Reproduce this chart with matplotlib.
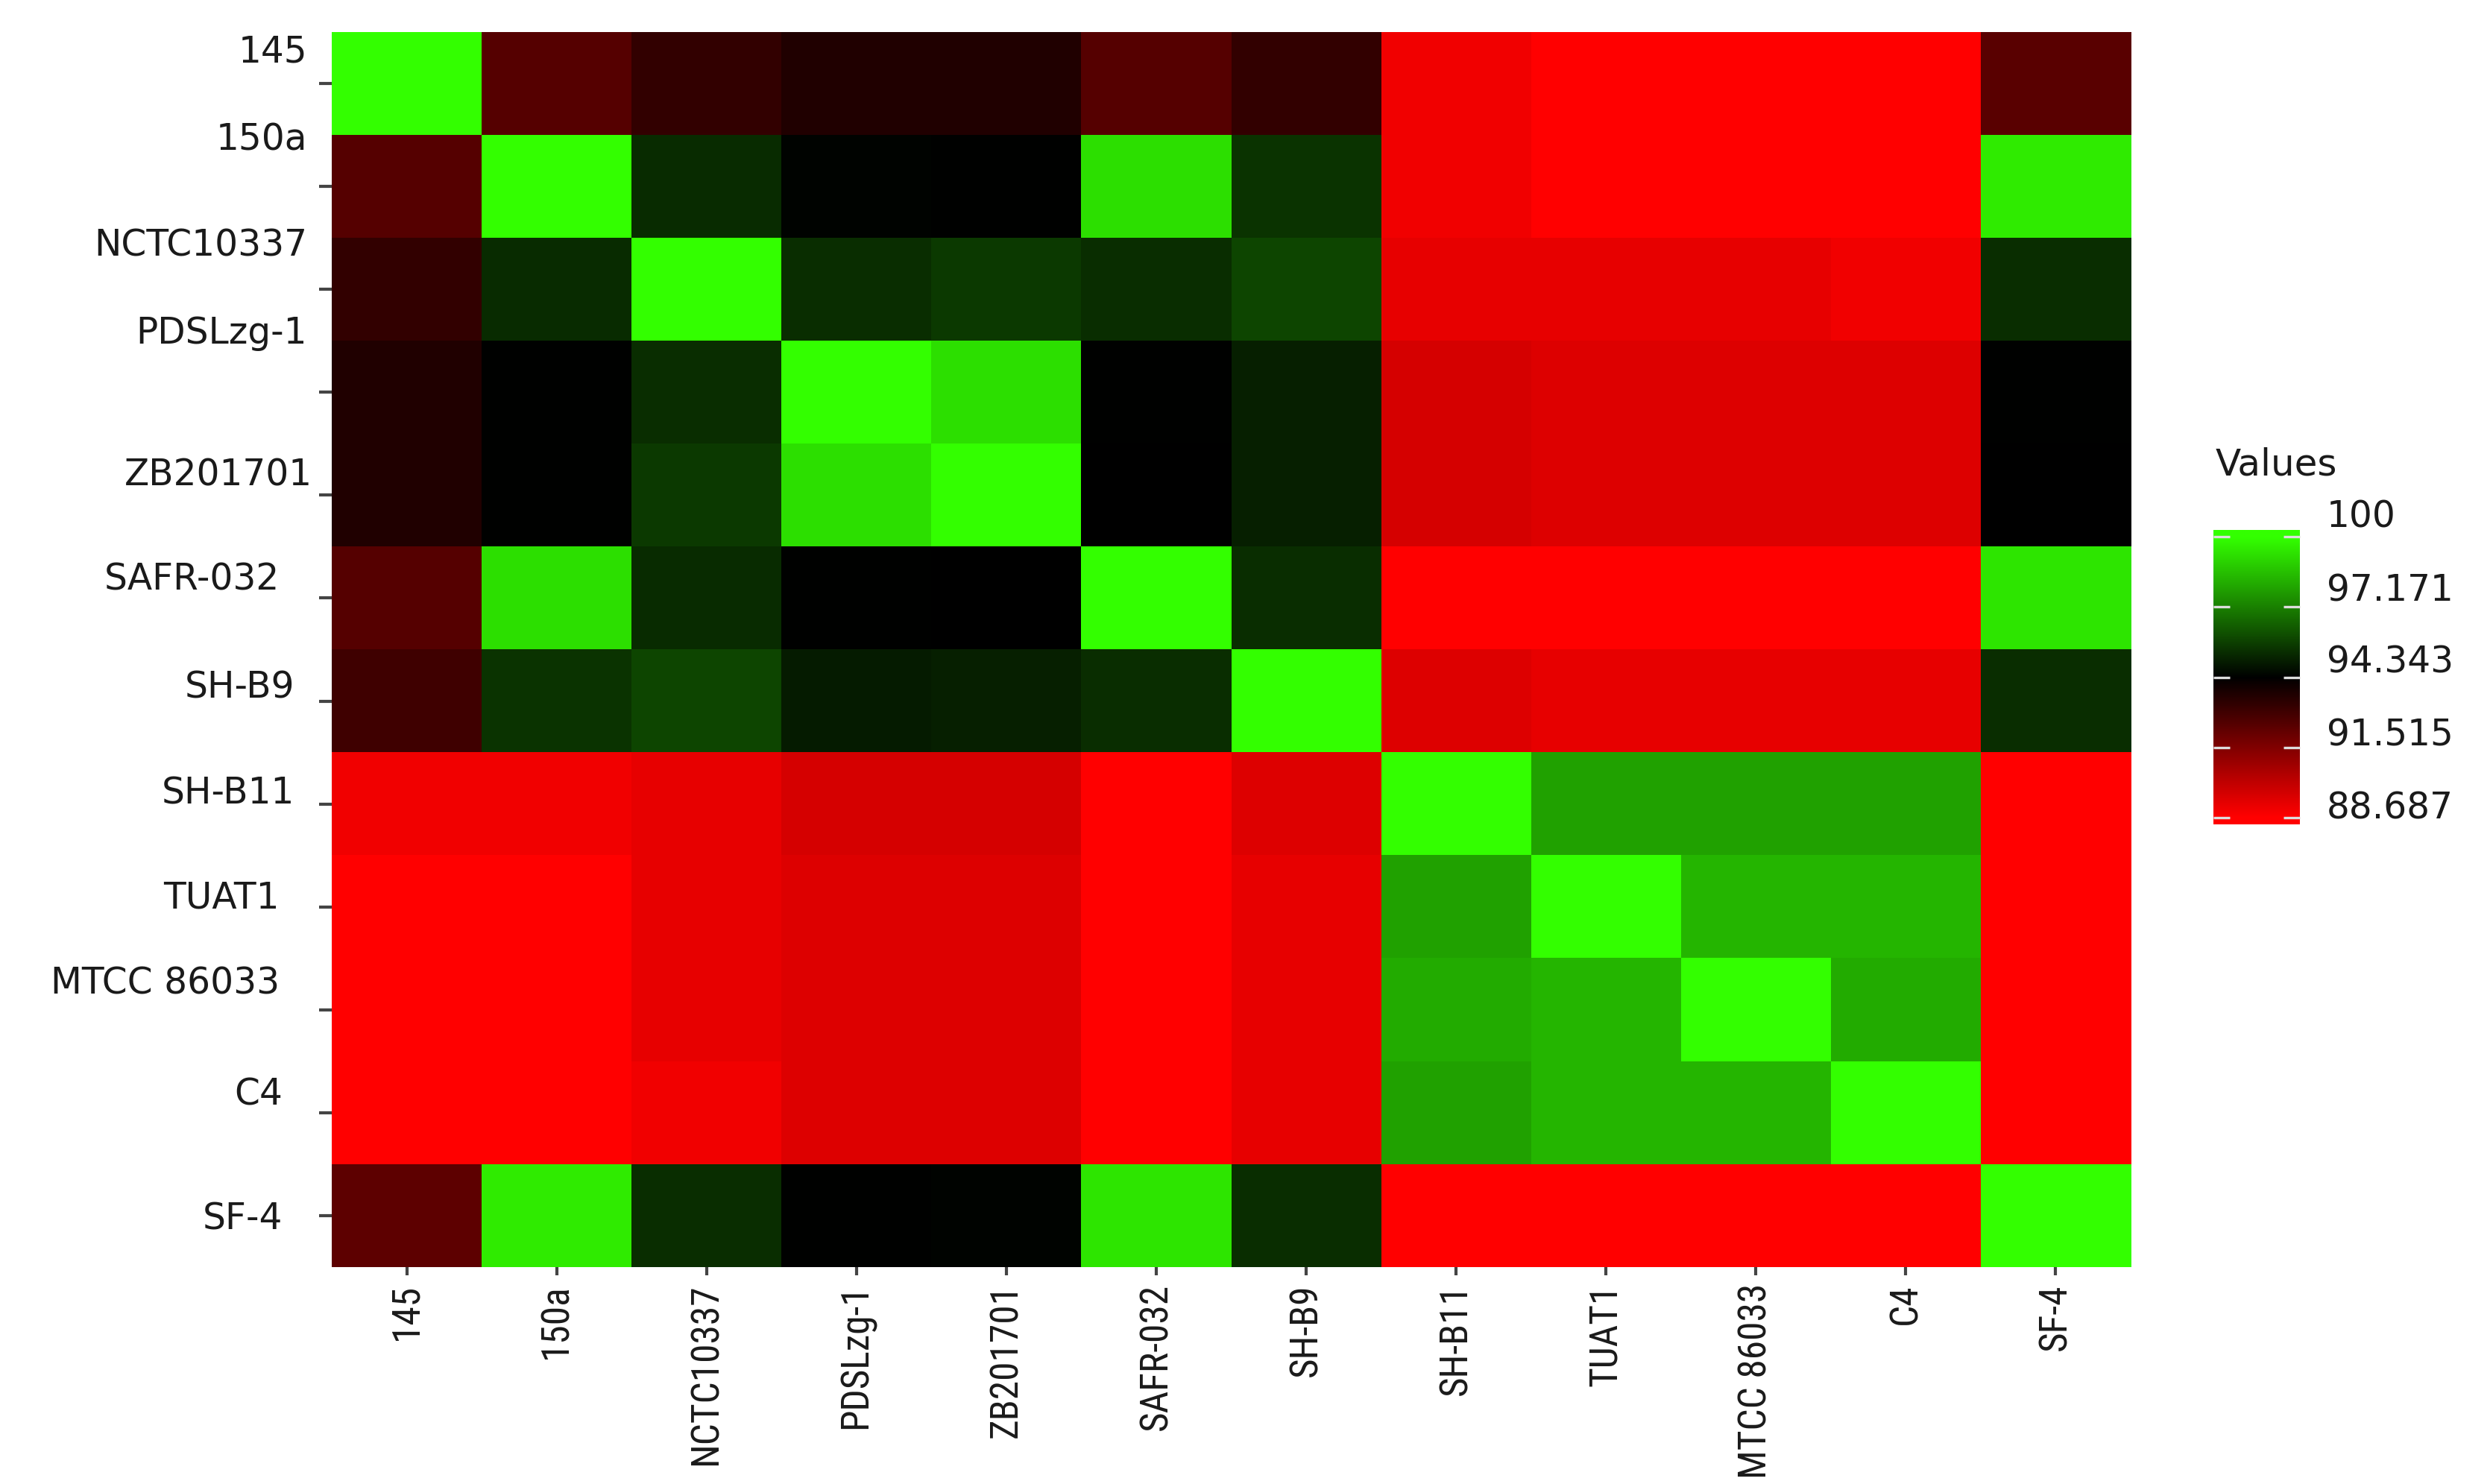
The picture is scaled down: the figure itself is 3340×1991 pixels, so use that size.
import numpy as np
import matplotlib
matplotlib.use('Agg')
import matplotlib.pyplot as plt
import matplotlib.transforms as mtransforms
from matplotlib import font_manager
from matplotlib.colors import LinearSegmentedColormap, Normalize

# strains (same order on both axes)
strains = ['145', '150a', 'NCTC10337', 'PDSLzg-1', 'ZB201701', 'SAFR-032', 'SH-B9',
           'SH-B11', 'TUAT1', 'MTCC 86033', 'C4', 'SF-4']

# similarity values, one list per row
row_145   = [100.00, 92.46, 93.21, 93.63, 93.63, 92.46, 93.21, 89.02, 88.69, 88.69, 88.69, 92.39]
row_150a  = [92.46, 100.00, 95.28, 94.40, 94.38, 99.25, 95.47, 89.02, 88.69, 88.69, 88.69, 99.55]
row_nctc  = [93.21, 95.28, 100.00, 95.34, 95.59, 95.34, 95.87, 89.23, 89.23, 89.23, 89.02, 95.34]
row_pdsl  = [93.63, 94.38, 95.34, 100.00, 99.25, 94.38, 95.05, 89.62, 89.44, 89.44, 89.44, 94.38]
row_zb    = [93.63, 94.38, 95.59, 99.25, 100.00, 94.34, 95.05, 89.62, 89.44, 89.44, 89.44, 94.34]
row_safr  = [92.46, 99.25, 95.28, 94.38, 94.30, 100.00, 95.34, 88.69, 88.69, 88.69, 88.69, 99.40]
row_shb9  = [92.93, 95.47, 95.87, 94.92, 95.05, 95.34, 100.00, 89.44, 89.23, 89.23, 89.23, 95.34]
row_shb11 = [89.02, 89.02, 89.23, 89.62, 89.62, 88.69, 89.44, 100.00, 97.89, 97.89, 97.89, 88.69]
row_tuat1 = [88.69, 88.69, 89.23, 89.44, 89.44, 88.69, 89.23, 97.89, 100.00, 98.36, 98.36, 88.69]
row_mtcc  = [88.69, 88.69, 89.23, 89.44, 89.44, 88.69, 89.23, 98.10, 98.36, 100.00, 98.10, 88.69]
row_c4    = [88.69, 88.69, 89.02, 89.44, 89.44, 88.69, 89.23, 97.89, 98.36, 98.36, 100.00, 88.69]
row_sf4   = [92.30, 99.55, 95.34, 94.38, 94.40, 99.40, 95.34, 88.69, 88.69, 88.69, 88.69, 100.00]

cbar_ticks = [100, 97.171, 94.343, 91.515, 88.687]
cbar_ticklabels = ['100', '97.171', '94.343', '91.515', '88.687']

data = np.array([row_145, row_150a, row_nctc, row_pdsl, row_zb, row_safr, row_shb9,
                 row_shb11, row_tuat1, row_mtcc, row_c4, row_sf4])

# label nudges (points) -- labels in the original sit off their ticks
ylab_dx = [0, 0, 0, 0, 2.5, -13.5, -6, -6, -13.5, -13.5, -12, -12]
ylab_dy = [17, 24.5, 23, 30.5, 11.5, 10.7, 8.4, 6.9, 6.1, 14.4, 10.7, 0]
cbar_dy = [11.5, 9.5, 9, 7.7, 6.5]

# narrow font for the bottom labels, whichever is around
installed = {f.name for f in font_manager.fontManager.ttflist}
if 'Liberation Sans Narrow' in installed:
    xfont, xsize = 'Liberation Sans Narrow', 19
elif 'Roboto Condensed' in installed:
    xfont, xsize = 'Roboto Condensed', 18.5
elif 'DejaVu Sans Condensed' in installed:
    xfont, xsize = 'DejaVu Sans Condensed', 16
else:
    xfont, xsize = 'Liberation Sans', 15

cmap = LinearSegmentedColormap.from_list('rkg', ['#FF0000', '#000000', '#33FF00'])
norm = Normalize(vmin=88.687, vmax=100)

W, H = 3340, 1991
fig = plt.figure(figsize=(W / 200, H / 200), dpi=200)
fig.patch.set_facecolor('white')

ax = fig.add_axes([445 / W, (H - 1700) / H, 2413 / W, 1657 / H])
ax.imshow(data, cmap=cmap, norm=norm, aspect='auto', interpolation='nearest')
for s in ax.spines.values():
    s.set_visible(False)

ax.set_xticks(np.arange(len(strains)))
ax.set_yticks(np.arange(len(strains)))
ax.set_xticklabels(strains, rotation=90, family=[xfont, 'DejaVu Sans'],
                   fontsize=xsize, color='#1a1a1a')
ax.set_yticklabels(strains, fontsize=17.5, color='#1a1a1a', family='DejaVu Sans')
ax.tick_params(axis='x', length=4, width=1.5, color='#444444', pad=4)
ax.tick_params(axis='y', length=6, width=1.5, color='#444444', pad=5.8)

for lab, dx, dy in zip(ax.get_yticklabels(), ylab_dx, ylab_dy):
    lab.set_transform(lab.get_transform() +
                      mtransforms.ScaledTranslation(dx / 72, dy / 72, fig.dpi_scale_trans))

# colour bar drawn as a gradient image, a bit wider than the data range like ggplot
cax = fig.add_axes([2969 / W, (H - 1106) / H, 116 / W, 395 / H])
lo, hi = 88.42, 100.27
grad = np.linspace(lo, hi, 400).reshape(-1, 1)
cax.imshow(grad, cmap=cmap, norm=norm, aspect='auto', origin='lower',
           extent=[0, 1, lo, hi], interpolation='bilinear')
cax.set_ylim(lo, hi)
cax.set_xticks([])
for s in cax.spines.values():
    s.set_visible(False)
cax.yaxis.tick_right()
cax.set_yticks(cbar_ticks)
cax.set_yticklabels(cbar_ticklabels, fontsize=17.5, color='#1a1a1a')
cax.tick_params(axis='y', direction='in', length=8, width=1.2, color='#dddddd',
                left=True, right=True, labelleft=False, labelright=True, pad=13)
for lab, dy in zip(cax.get_yticklabels(), cbar_dy):
    lab.set_transform(lab.get_transform() +
                      mtransforms.ScaledTranslation(0, dy / 72, fig.dpi_scale_trans))

fig.text(2972 / W, 1 - 623 / H, 'Values', fontsize=18, color='#1a1a1a',
         ha='left', va='center')

fig.savefig('out.png', dpi=200, facecolor='white')
